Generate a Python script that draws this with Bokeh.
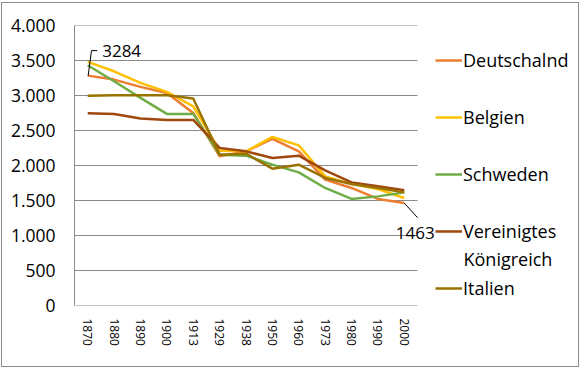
import numpy as np
from bokeh.plotting import figure
from bokeh.models import Range1d, FixedTicker, Legend, LegendItem, Label
from bokeh.embed import file_html
from bokeh.resources import INLINE

years = ["1870", "1880", "1890", "1900", "1913", "1929", "1938",
         "1950", "1960", "1973", "1980", "1990", "2000"]

deutschland = [3284, 3227, 3123, 3037, 2751, 2131, 2202, 2379, 2202, 1798, 1679, 1522, 1463]
belgien     = [3481, 3346, 3180, 3051, 2846, 2212, 2202, 2408, 2288, 1845, 1736, 1665, 1536]
schweden    = [3432, 3203, 2966, 2737, 2737, 2155, 2141, 2012, 1902, 1679, 1522, 1559, 1616]
uk          = [2745, 2737, 2670, 2651, 2651, 2251, 2202, 2108, 2141, 1931, 1759, 1702, 1645]
italien     = [2995, 3003, 3003, 3003, 2956, 2155, 2169, 1955, 2012, 1822, 1736, 1679, 1616]

series_names = ["Deutschalnd", "Belgien", "Schweden", "Vereinigtes Königreich", "Italien"]
series_values = [deutschland, belgien, schweden, uk, italien]
series_colors = ["#ED7D31", "#FFC000", "#70AD47", "#9E480E", "#997300"]

y_ticks = [0, 500, 1000, 1500, 2000, 2500, 3000, 3500, 4000]
y_tick_labels = ["0", "500", "1.000", "1.500", "2.000", "2.500", "3.000", "3.500", "4.000"]

FONT = "Open Sans"
GRID = "#8a8a8a"

# geometry (pixels): plot area 343 px wide for the categories; legend lives to its right
W, H = 578, 365
FL, FT, FH = 72, 22, 280
CAT_W = 343
px_y = FH / 4000.0

n = len(years)
xpos = np.arange(n) + 0.5          # category centres
px_x = CAT_W / n
x_end = (W - FL) / px_x            # frame extends to the right edge (legend area)

p = figure(width=W, height=H, x_range=Range1d(0, x_end), y_range=Range1d(0, 4000),
           output_backend="svg", toolbar_location=None,
           min_border_left=FL, min_border_right=0,
           min_border_top=FT, min_border_bottom=H - FT - FH)
p.styles = {"border": "1px solid #8c8c8c", "margin-left": "1px", "margin-top": "2px"}
p.outline_line_color = None
p.background_fill_color = "white"
p.border_fill_color = "white"

# horizontal gridlines across the category area only
p.xgrid.grid_line_color = None
p.ygrid.grid_line_color = None
p.segment(x0=[0] * len(y_ticks), y0=y_ticks, x1=[n] * len(y_ticks), y1=y_ticks,
          line_color=GRID, line_width=1)

renderers = []
for name, vals, col in zip(series_names, series_values, series_colors):
    r = p.line(xpos, vals, line_color=col, line_width=2.5)
    renderers.append(r)

# axes
p.yaxis.ticker = FixedTicker(ticks=y_ticks)
p.yaxis.major_label_overrides = {t: l for t, l in zip(y_ticks, y_tick_labels)}
p.xaxis.ticker = FixedTicker(ticks=list(xpos))
p.xaxis.major_label_overrides = {float(x): y for x, y in zip(xpos, years)}
for ax in (p.xaxis[0], p.yaxis[0]):
    ax.major_tick_line_color = None
    ax.minor_tick_line_color = None
    ax.major_tick_out = 0
    ax.major_tick_in = 0
    ax.major_label_text_font = FONT
    ax.major_label_text_color = "black"
p.yaxis.axis_line_color = GRID
p.yaxis.axis_line_width = 1
p.xaxis.axis_line_color = None
p.yaxis.major_label_text_font_size = "17.5px"
p.yaxis.major_label_standoff = 19
p.xaxis.major_label_text_font_size = "12px"
p.xaxis.major_label_orientation = "vertical"
p.xaxis.major_label_standoff = 13

# data labels with leader lines
i0, v0 = xpos[0], deutschland[0]
p.line([i0 + 0.5 / px_x, i0 + 3.8 / px_x, i0 + 9.5 / px_x],
       [v0, v0 + 25 / px_y, v0 + 25 / px_y], line_color="black", line_width=1)
p.add_layout(Label(x=i0, y=v0, text=str(v0), x_offset=14.5, y_offset=25,
                   text_font=FONT, text_font_size="17px", text_baseline="middle",
                   text_color="black"))

i1, v1 = xpos[-1], deutschland[-1]
p.segment(x0=[i1], y0=[v1], x1=[i1 + 13.3 / px_x], y1=[v1 - 14.6 / px_y],
          line_color="black", line_width=1)
p.add_layout(Label(x=i1, y=v1, text=str(v1), x_offset=-8.5, y_offset=-30,
                   text_font=FONT, text_font_size="17px", text_baseline="middle",
                   text_color="black"))

# legend
LEG_X = 433 - FL
items = [LegendItem(label=name.split(" ")[0], renderers=[r])
         for name, r in zip(series_names, renderers)]
legend = Legend(items=items, location=(LEG_X, 2), orientation="vertical",
                padding=0, margin=0, spacing=27, label_height=30, glyph_height=30,
                glyph_width=27, label_standoff=1, border_line_color=None,
                background_fill_alpha=0, label_text_font=FONT,
                label_text_font_size="18px", label_text_color="black")
p.add_layout(legend)
# second line of the two-line legend label
p.add_layout(Label(x=LEG_X + 27 + 1, y=(FT + FH) - (258 - 3), x_units="screen", y_units="screen",
                   text=series_names[3].split(" ")[1], text_font=FONT,
                   text_font_size="18px", text_baseline="middle", text_color="black"))

open("out.html", "w").write(file_html(p, INLINE))
